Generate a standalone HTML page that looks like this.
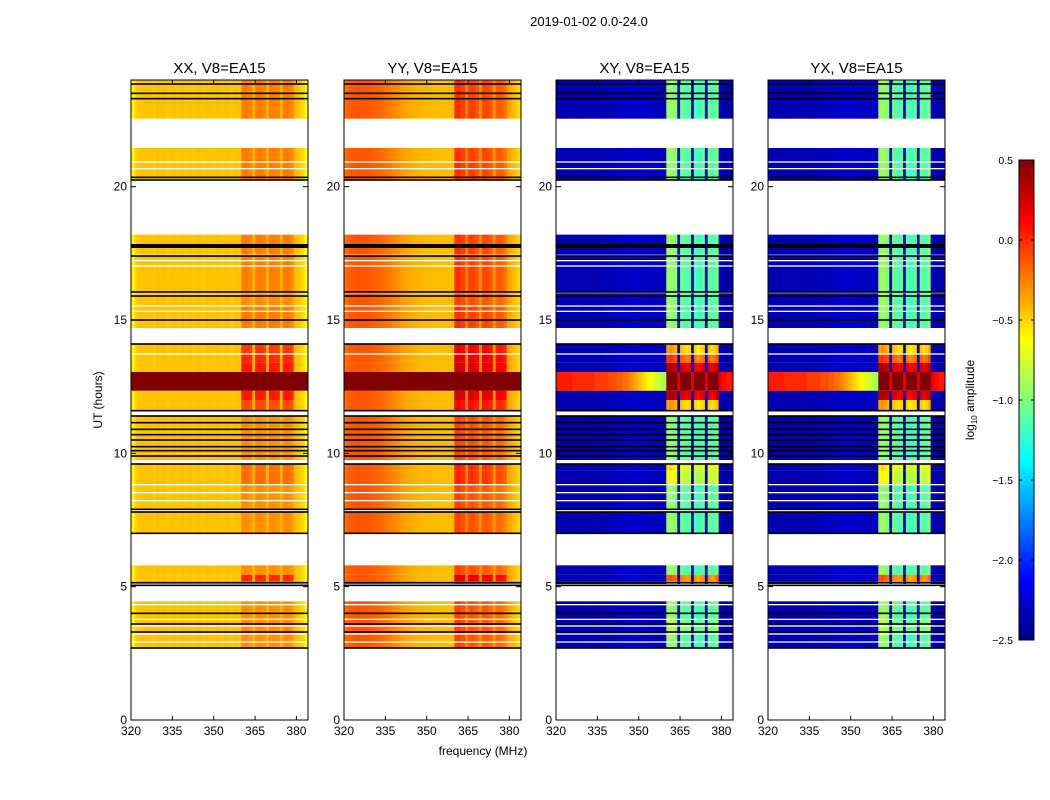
<!DOCTYPE html>
<html><head><meta charset="utf-8">
<style>
body{margin:0;background:#fff;}
svg{display:block;font-family:"Liberation Sans",sans-serif;}
</style></head>
<body>
<svg id="fig" width="1050" height="800" viewBox="0 0 1050 800">
<rect x="0" y="0" width="1050" height="800" fill="#fff"/>
<text x="589" y="26" font-size="13" text-anchor="middle">2019-01-02 0.0-24.0</text>
<text x="483" y="755" font-size="12" text-anchor="middle">frequency (MHz)</text>
<text x="102" y="400" font-size="12" text-anchor="middle" transform="rotate(-90 102 400)">UT (hours)</text>
<g id="panels"></g>
<g id="cbar"></g>
</svg>
<script>
// ---- data ----
const panelTitles = ["XX, V8=EA15","YY, V8=EA15","XY, V8=EA15","YX, V8=EA15"];
const xTicks = [320,335,350,365,380];
const yTicks = [0,5,10,15,20];
const cbarTicks = [0.5,0.0,-0.5,-1.0,-1.5,-2.0,-2.5];
const cbarTickLabels = ["0.5","0.0","\u22120.5","\u22121.0","\u22121.5","\u22122.0","\u22122.5"];
// frequency channel starts (MHz), 1 MHz wide
const freqs = [320,321,322,323,324,325,326,327,328,329,330,331,332,333,334,335,336,337,338,339,340,341,342,343,344,345,346,347,348,349,350,351,352,353,354,355,356,357,358,359,360,361,362,363,364,365,366,367,368,369,370,371,372,373,374,375,376,377,378,379,380,381,382,383];
const profXX = [-0.62,-0.52,-0.46,-0.45,-0.44,-0.45,-0.44,-0.45,-0.46,-0.44,-0.45,-0.44,-0.45,-0.46,-0.45,-0.44,-0.45,-0.46,-0.44,-0.45,-0.45,-0.44,-0.46,-0.45,-0.44,-0.45,-0.46,-0.44,-0.45,-0.45,-0.46,-0.44,-0.45,-0.46,-0.44,-0.45,-0.46,-0.45,-0.44,-0.45,-0.3,-0.28,-0.3,-0.32,-0.4,-0.3,-0.28,-0.3,-0.32,-0.4,-0.3,-0.29,-0.31,-0.32,-0.4,-0.3,-0.28,-0.3,-0.33,-0.42,-0.45,-0.48,-0.52,-0.62];
const profYY = [-0.22,-0.16,-0.14,-0.13,-0.12,-0.12,-0.13,-0.12,-0.13,-0.14,-0.15,-0.16,-0.17,-0.18,-0.2,-0.22,-0.24,-0.26,-0.28,-0.3,-0.32,-0.34,-0.36,-0.37,-0.38,-0.39,-0.4,-0.41,-0.41,-0.42,-0.42,-0.42,-0.43,-0.43,-0.43,-0.43,-0.43,-0.43,-0.43,-0.43,-0.08,-0.05,-0.1,-0.12,-0.25,-0.12,-0.1,-0.14,-0.18,-0.28,-0.14,-0.12,-0.16,-0.2,-0.3,-0.2,-0.18,-0.22,-0.26,-0.34,-0.38,-0.42,-0.46,-0.5];
const profXY = [-2.35,-2.35,-2.35,-2.35,-2.35,-2.35,-2.35,-2.35,-2.35,-2.35,-2.35,-2.35,-2.35,-2.35,-2.35,-2.35,-2.35,-2.33,-2.33,-2.33,-2.33,-2.33,-2.3,-2.3,-2.3,-2.3,-2.28,-2.28,-2.28,-2.28,-2.28,-2.28,-2.3,-2.3,-2.3,-2.3,-2.32,-2.32,-2.33,-2.33,-0.95,-0.9,-0.95,-1.0,-2.3,-1.05,-1.1,-1.15,-1.1,-2.3,-1.1,-1.2,-1.15,-1.1,-2.3,-1.05,-1.15,-1.1,-1.0,-2.3,-2.38,-2.38,-2.38,-2.38];
const profYX = profXY.slice();
const flarePar = [0.5,0.5,0.5,0.5,0.5,0.5,0.5,0.5,0.5,0.5,0.5,0.5,0.5,0.5,0.5,0.5,0.5,0.5,0.5,0.5,0.5,0.5,0.5,0.5,0.5,0.5,0.5,0.5,0.5,0.5,0.5,0.5,0.5,0.5,0.5,0.5,0.5,0.5,0.5,0.5,0.5,0.5,0.5,0.5,0.5,0.5,0.5,0.5,0.5,0.5,0.5,0.5,0.5,0.5,0.5,0.5,0.5,0.5,0.5,0.5,0.5,0.5,0.5,0.5];
const flareCross = [0.05,0.05,0.05,0.05,0.05,0.05,0.0,0.0,0.0,0.0,0.0,0.0,0.0,0.0,-0.05,-0.05,-0.05,-0.05,-0.05,-0.1,-0.1,-0.1,-0.15,-0.15,-0.2,-0.2,-0.25,-0.3,-0.35,-0.4,-0.45,-0.5,-0.55,-0.6,-0.65,-0.7,-0.75,-0.8,-0.85,-0.9,0.5,0.5,0.5,0.5,0.2,0.5,0.5,0.5,0.5,0.2,0.5,0.5,0.5,0.5,0.2,0.5,0.5,0.5,0.5,0.2,0.1,0.1,0.05,0.05];
const bandMask = [0,0,0,0,0,0,0,0,0,0,0,0,0,0,0,0,0,0,0,0,0,0,0,0,0,0,0,0,0,0,0,0,0,0,0,0,0,0,0,0,1,1,1,1,0,1,1,1,1,0,1,1,1,1,0,1,1,1,1,0,0,0,0,0];
// time rows (hours)
const rowStart = [2.7,2.95,3.25,3.55,3.8,4.35,5.1,5.2,5.45,7.0,7.9,8.25,8.55,8.85,9.35,9.75,11.6,12.0,12.35,13.05,13.4,13.75,14.7,15.35,15.55,16.05,17.05,17.25,17.45,20.25,20.7,20.95,22.55];
const rowEnd   = [2.9,3.2,3.5,3.75,4.3,4.45,5.2,5.45,5.8,7.8,8.2,8.5,8.8,9.35,9.6,11.4,12.0,12.35,13.05,13.4,13.7,14.1,15.3,15.5,16.0,17.0,17.2,17.4,18.2,20.65,20.9,21.45,24.0];
const rowParBoost   = [0,0,0,0,0,0,0,0.3,0,0,0,0,0,0.1,0.1,0,0.2,0.35,0,0.35,0.3,0.25,0.05,0.05,0,0.05,0.05,0.05,0.05,0.05,0.05,0.05,0.05];
const rowCrossBoost = [0,0,0.1,0.1,0,0,0,0.8,0,0,0,0,0,0.3,0.4,0,0.6,1.3,0,1.3,0.9,0.6,0,0,0,0,0,0,0,0,0,0,0];
const rowFlare = [0,0,0,0,0,0,0,0,0,0,0,0,0,0,0,0,0,0,1,0,0,0,0,0,0,0,0,0,0,0,0,0,0];
const flagLines = [2.7,3.3,3.6,4.0,5.05,5.15,7.0,7.8,7.9,9.6,9.9,10.1,10.25,10.5,10.7,10.9,11.15,11.4,11.6,14.1,15.0,15.9,16.05,17.4,20.25,20.35,23.3,23.5,23.85];
const flagBlocks = [[17.7,17.85]];

// ---- layout ----
const panelX = [131,344,556,768], panelW = 177, pTop = 80, pBot = 720;
const fMin = 320, fMax = 384.2, tMin = 0, tMax = 24;
function jet(v){
  let x=(v+2.5)/3; x=Math.max(0,Math.min(1,x));
  const c=t=>Math.round(255*Math.max(0,Math.min(1,t)));
  return `rgb(${c(1.5-Math.abs(4*x-3))},${c(1.5-Math.abs(4*x-2))},${c(1.5-Math.abs(4*x-1))})`;
}
const NS="http://www.w3.org/2000/svg";
function el(tag,attrs,parent){const e=document.createElementNS(NS,tag);for(const k in attrs)e.setAttribute(k,attrs[k]);parent.appendChild(e);return e;}
const yS = t => pBot - (t-tMin)/(tMax-tMin)*(pBot-pTop);
const profs=[profXX,profYY,profXY,profYX];
const panelsG=document.getElementById('panels');
for(let p=0;p<4;p++){
  const x0=panelX[p];
  const xS = f => x0 + (f-fMin)/(fMax-fMin)*panelW;
  const g=el('g',{},panelsG);
  
  
  const cross=p>=2;
  const prof=profs[p];
  const flare=cross?flareCross:flarePar;
  for(let r=0;r<rowStart.length;r++){
    const y1=yS(rowEnd[r]), y2=yS(rowStart[r]);
    for(let i=0;i<freqs.length;i++){
      let v;
      if(rowFlare[r]) v=flare[i];
      else v=prof[i]+(cross?rowCrossBoost[r]:rowParBoost[r])*bandMask[i];
      const xa=xS(freqs[i]), xb=Math.min(x0+panelW,xS(freqs[i]+1));
      const c=el('rect',{x:xa.toFixed(2),y:y1.toFixed(2),width:(xb-xa+0.4).toFixed(2),height:(y2-y1).toFixed(2),fill:jet(v)},g);
      
      
    }
  }
  for(const t of flagLines){
    const l=el('rect',{x:x0,y:(yS(t)-0.8).toFixed(2),width:panelW,height:1.6,fill:'#000'},g);
    
    
  }
  for(const b of flagBlocks){
    const l=el('rect',{x:x0,y:yS(b[1]),width:panelW,height:yS(b[0])-yS(b[1]),fill:'#000'},g);
    
    
  }
  const fr=el('rect',{x:x0,y:pTop,width:panelW,height:pBot-pTop,fill:'none',stroke:'#000','stroke-width':1},g);
  
  
  const tt=el('text',{x:x0+panelW/2,y:73,'font-size':15,'text-anchor':'middle'},g);
  tt.textContent=panelTitles[p];
  
  
  for(const f of xTicks){
    const x=xS(f);
    el('line',{x1:x,x2:x,y1:pBot,y2:pBot-4,stroke:'#000'},g);
    el('line',{x1:x,x2:x,y1:pTop,y2:pTop+4,stroke:'#000'},g);
    const t=el('text',{x:x,y:pBot+15,'font-size':12,'text-anchor':'middle'},g);
    t.textContent=f;
    
    
  }
  for(const h of yTicks){
    const y=yS(h);
    el('line',{x1:x0,x2:x0+5,y1:y,y2:y,stroke:'#000'},g);
    el('line',{x1:x0+panelW,x2:x0+panelW-5,y1:y,y2:y,stroke:'#000'},g);
    const t=el('text',{x:x0-4,y:y+4,'font-size':12,'text-anchor':'end'},g);
    t.textContent=h;
    
    
  }
}
// colorbar
const cb=document.getElementById('cbar');


const cbX=1019,cbW=15,cbT=160,cbB=640;
const cbY=v=>cbB-(v+2.5)/3*(cbB-cbT);
for(let k=0;k<120;k++){
  const v0=-2.5+3*k/120,v1=-2.5+3*(k+1)/120;
  const s=el('rect',{x:cbX,y:cbY(v1).toFixed(2),width:cbW,height:(cbY(v0)-cbY(v1)+0.3).toFixed(2),fill:jet((v0+v1)/2)},cb);
  
  
}
el('rect',{x:cbX,y:cbT,width:cbW,height:cbB-cbT,fill:'none',stroke:'#000'},cb);
cbarTicks.forEach((v,i)=>{
  const y=cbY(v);
  el('line',{x1:cbX,x2:cbX+3,y1:y,y2:y,stroke:'#000'},cb);
  el('line',{x1:cbX+cbW,x2:cbX+cbW-3,y1:y,y2:y,stroke:'#000'},cb);
  const t=el('text',{x:1013,y:y+4,'font-size':10.5,'text-anchor':'end'},cb);
  t.textContent=cbarTickLabels[i];
  
  
});
const lab=el('text',{x:974,y:400,'font-size':12,'text-anchor':'middle',transform:'rotate(-90 974 400)'},cb);
lab.innerHTML='log<tspan font-size="8" dy="3">10</tspan><tspan dy="-3"> amplitude</tspan>';


</script>
</body></html>
